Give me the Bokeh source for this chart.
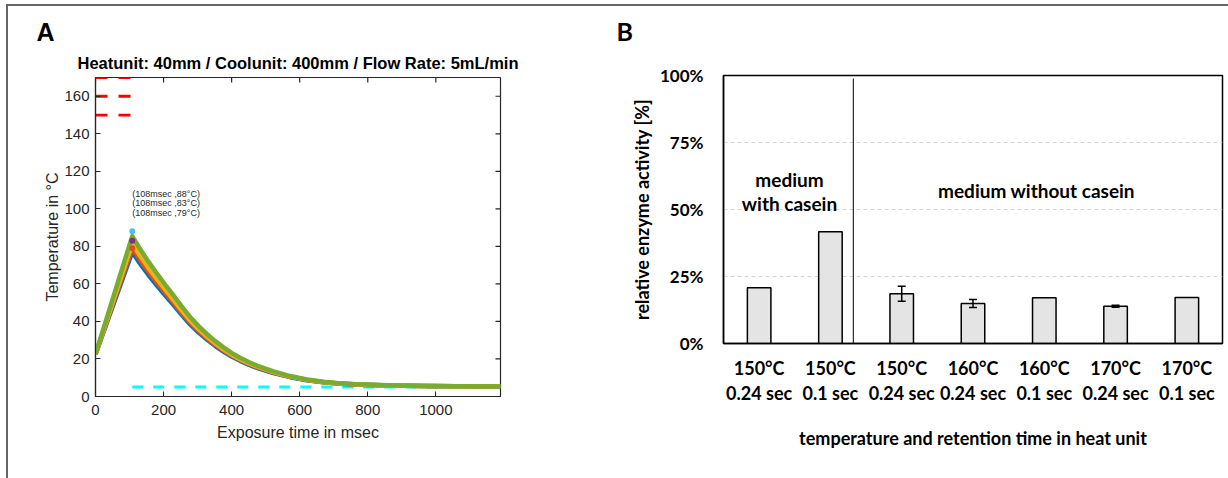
from bokeh.plotting import figure
from bokeh.layouts import row
from bokeh.models import (Range1d, FixedTicker, Label, Title, Whisker, TeeHead,
                          ColumnDataSource, NumeralTickFormatter, Arrow)
from bokeh.embed import file_html
from bokeh.resources import INLINE

# ---------------- Panel A data ----------------
time_ms = [0, 108, 131, 155, 180, 205, 230, 255, 278, 303, 328, 352, 376, 400, 425, 450, 474,
           523, 572, 621, 670, 719, 768, 866, 964, 1062, 1190]
temp_blue = [22.5, 77.0, 70.8, 64.9, 59.3, 53.8, 48.6, 43.1, 38.4, 34.1, 30.2, 26.9, 23.9, 21.3,
             19.0, 17.0, 15.3, 12.5, 10.3, 8.7, 7.6, 6.8, 6.3, 5.9, 5.6, 5.4, 5.3]
temp_orange = [22.5, 79.0, 72.7, 66.7, 60.8, 55.2, 49.8, 44.2, 39.4, 34.9, 30.9, 27.5, 24.5, 21.8,
               19.4, 17.4, 15.6, 12.7, 10.5, 8.8, 7.6, 6.9, 6.4, 5.9, 5.6, 5.4, 5.3]
temp_yellow = [22.5, 81.5, 75.0, 68.7, 62.7, 56.9, 51.3, 45.5, 40.5, 35.9, 31.8, 28.3, 25.1, 22.3,
               19.9, 17.8, 16.0, 13.0, 10.6, 8.9, 7.7, 6.9, 6.4, 5.9, 5.6, 5.4, 5.3]
temp_green = [22.5, 85.5, 78.6, 72.0, 65.7, 59.5, 53.7, 47.6, 42.4, 37.5, 33.2, 29.5, 26.2, 23.2,
              20.7, 18.4, 16.5, 13.4, 10.9, 9.1, 7.9, 7.0, 6.5, 6.0, 5.6, 5.4, 5.3]
peak_time = [108, 108, 108]
peak_temp = [88, 83, 79]
peak_labels = ["(108msec  ,88°C)", "(108msec  ,83°C)", "(108msec  ,79°C)"]
heat_unit_temps = [150, 160, 170]
heat_unit_time = [0, 108]
cool_unit_temp = 5
cool_unit_time = [108, 1190]
a_xticks = [0, 200, 400, 600, 800, 1000]
a_yticks = [0, 20, 40, 60, 80, 100, 120, 140, 160]
a_title = "Heatunit: 40mm / Coolunit: 400mm / Flow Rate: 5mL/min"

# ---------------- Panel B data ----------------
conditions = ["150°C\n0.24 sec", "150°C\n0.1 sec", "150°C\n0.24 sec", "160°C\n0.24 sec",
              "160°C\n0.1 sec", "170°C\n0.24 sec", "170°C\n0.1 sec"]
activity = [0.208, 0.417, 0.186, 0.149, 0.171, 0.139, 0.172]
err_position = [3, 4, 6]
err_value = [0.028, 0.015, 0.004]
b_yticks = [0, 0.25, 0.5, 0.75, 1.0]

FA = "Liberation Sans"
FB = "Lato"
DARK = "#262626"

# page offset caused by the outer frame lines (margin + border)
OX, OY = 8, 6
H = 478 - OY

# ================= Panel A =================
WA = 600 - OX
LA, RA, TA, BA = 95 - OX, 100, 77 - OY, 82
XMAX, YMAX = 1190, 170
pA = figure(width=WA, height=H, x_range=Range1d(0, XMAX), y_range=Range1d(0, YMAX),
            output_backend="svg", toolbar_location=None, title_location=None,
            min_border_left=LA, min_border_right=RA, min_border_top=TA, min_border_bottom=BA)
pA.frame_align = False
pA.background_fill_color = "white"
pA.border_fill_color = "white"
pA.outline_line_color = DARK
pA.outline_line_width = 1.2
pA.xgrid.visible = False
pA.ygrid.visible = False

fw, fh = WA - LA - RA, H - TA - BA

for axis in (pA.xaxis[0], pA.yaxis[0]):
    axis.axis_line_color = DARK
    axis.axis_line_width = 1.2
    axis.major_tick_line_color = DARK
    axis.major_tick_in = 5
    axis.major_tick_out = 0
    axis.minor_tick_line_color = None
    axis.major_label_text_font = FA
    axis.major_label_text_font_size = "15px"
    axis.major_label_text_color = DARK
    axis.axis_label_text_font = FA
    axis.axis_label_text_font_size = "16px"
    axis.axis_label_text_font_style = "normal"
    axis.axis_label_text_color = DARK
pA.xaxis.ticker = FixedTicker(ticks=a_xticks)
pA.yaxis.ticker = FixedTicker(ticks=a_yticks)
pA.xaxis.axis_label = "Exposure time in msec"
pA.yaxis.axis_label = "Temperature in °C"
pA.xaxis.major_label_standoff = 8
pA.xaxis.axis_label_standoff = 6
pA.yaxis.major_label_standoff = 6
pA.yaxis.axis_label_standoff = 0

# inner ticks on the top and right edges of the box (5 px long)
tick_dy = 5 * YMAX / fh
tick_dx = 5 * XMAX / fw
pA.segment(x0=a_xticks, x1=a_xticks, y0=[YMAX] * len(a_xticks), y1=[YMAX - tick_dy] * len(a_xticks),
           line_color=DARK, line_width=1.2)
pA.segment(x0=[XMAX] * len(a_yticks), x1=[XMAX - tick_dx] * len(a_yticks), y0=a_yticks, y1=a_yticks,
           line_color=DARK, line_width=1.2)

# heat unit (red dashed) and cool unit (cyan dashed)
pA.segment(x0=[heat_unit_time[0]] * 3, x1=[heat_unit_time[1]] * 3,
           y0=heat_unit_temps, y1=heat_unit_temps,
           line_color="#FF0000", line_width=2.8, line_dash="12 11")
pA.segment(x0=[cool_unit_time[0]], x1=[cool_unit_time[1]], y0=[cool_unit_temp], y1=[cool_unit_temp],
           line_color="#00FFFF", line_width=3, line_dash="11 10")

for ys, col in ((temp_blue, "#0072BD"), (temp_orange, "#D95319"),
                (temp_yellow, "#EDB120"), (temp_green, "#77AC30")):
    pA.line(time_ms, ys, line_color=col, line_width=4.5, line_join="round")

pA.scatter(peak_time, peak_temp, size=6, line_color=None,
           fill_color=["#4DBEEE", "#7E2F8E", "#D95319"])

ann_y = (H - BA - (202.7 - OY)) * YMAX / fh
pA.add_layout(Label(x=peak_time[0], y=ann_y, text="\n".join(peak_labels),
                    text_font=FA, text_font_size="9px", text_color=DARK,
                    text_align="left", text_baseline="middle", text_line_height=0.97))

pA.add_layout(Title(text=a_title, align="center", text_font=FA, text_font_size="16.5px",
                    text_font_style="bold", text_color="black", standoff=12), "above")
pA.add_layout(Title(text="A", align="left", offset=36 - 95, text_font=FA, text_font_size="25px",
                    text_font_style="bold", text_color="black", standoff=0), "above")

# ================= Panel B =================
WB = 628
OFF = 600
LB, RB, TB, BB = 123, 6, 75 - OY, 135
pB = figure(width=WB, height=H, x_range=Range1d(0.5, 7.5), y_range=Range1d(0, 1),
            output_backend="svg", toolbar_location=None, title_location=None,
            min_border_left=LB, min_border_right=RB, min_border_top=TB, min_border_bottom=BB)
pB.frame_align = False
pB.background_fill_color = "white"
pB.border_fill_color = "white"
pB.outline_line_color = "black"
pB.outline_line_width = 1.5
pB.xgrid.visible = False
pB.ygrid.ticker = FixedTicker(ticks=[0.25, 0.5, 0.75])
pB.ygrid.grid_line_color = "#d4d4d4"
pB.ygrid.grid_line_dash = "4 3"
pB.ygrid.grid_line_width = 1

bw, bh = WB - LB - RB, H - TB - BB


def bx(px_abs):
    return 0.5 + (px_abs - OFF - LB) * 7 / bw


def by(py_abs):
    return (H - BB - (py_abs - OY)) / bh


positions = list(range(1, len(conditions) + 1))
pB.xaxis.ticker = FixedTicker(ticks=positions)
pB.xaxis.major_label_overrides = {i: c for i, c in zip(positions, conditions)}
pB.yaxis.ticker = FixedTicker(ticks=b_yticks)
pB.yaxis.formatter = NumeralTickFormatter(format="0%")
for axis in (pB.xaxis[0], pB.yaxis[0]):
    axis.axis_line_color = "black"
    axis.axis_line_width = 1.5
    axis.major_tick_line_color = None
    axis.minor_tick_line_color = None
    axis.major_label_text_font = FB
    axis.major_label_text_font_style = "bold"
    axis.major_label_text_color = "black"
    axis.axis_label_text_font = FB
    axis.axis_label_text_font_style = "bold"
    axis.axis_label_text_color = "black"
    axis.axis_label_text_font_size = "18px"
pB.yaxis.major_label_text_font_size = "17px"
pB.xaxis.major_label_text_font_size = "18px"
pB.xaxis.major_label_text_line_height = 1.15
pB.xaxis.major_label_standoff = 7
pB.yaxis.major_label_standoff = 14
pB.xaxis.axis_label = "temperature and retention time in heat unit"
pB.yaxis.axis_label = "relative enzyme activity [%]"
pB.xaxis.axis_label_standoff = 20
pB.yaxis.axis_label_standoff = 4

pB.vbar(x=positions, top=activity, width=0.33, bottom=0,
        fill_color="#e4e4e4", line_color="black", line_width=1.5)

esrc = ColumnDataSource(dict(x=err_position,
                             upper=[activity[i - 1] + e for i, e in zip(err_position, err_value)],
                             lower=[activity[i - 1] - e for i, e in zip(err_position, err_value)]))
pB.add_layout(Whisker(source=esrc, base="x", upper="upper", lower="lower", level="overlay",
                      line_color="black", line_width=1.5,
                      upper_head=TeeHead(size=8, line_width=1.5, line_color="black"),
                      lower_head=TeeHead(size=8, line_width=1.5, line_color="black")))

# group divider
div_x = bx(852.8)
pB.add_layout(Arrow(x_start=div_x, x_end=div_x, y_start=by(78), y_end=by(347), end=None,
                    line_color="black", line_width=1))

for txt, px, py in (("medium", 789, 179), ("with casein", 789, 203),
                    ("medium without casein", 1036, 190)):
    pB.add_layout(Label(x=bx(px), y=by(py), text=txt, text_font=FB,
                        text_font_size="19px", text_font_style="bold", text_color="black",
                        text_align="center", text_baseline="middle"))

# the panel letter sits one (empty) line higher than the title band
pB.add_layout(Title(text="B\n", align="left", offset=616 - 723, text_font=FB, text_font_size="25px",
                    text_font_style="bold", text_color="black", text_line_height=1.0,
                    standoff=0), "above")

layout = row(pA, pB, spacing=0,
             styles={"margin-left": "6px", "margin-top": "4px",
                     "border-top": "2px solid #666666", "border-left": "2px solid #666666"})
open("out.html", "w").write(file_html(layout, INLINE))
